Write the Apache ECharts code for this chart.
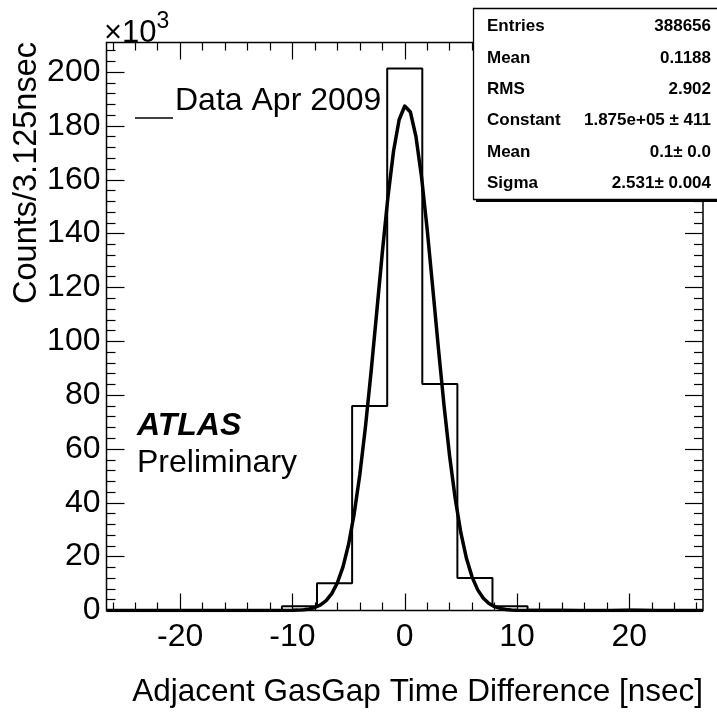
<!DOCTYPE html>
<html>
<head>
<meta charset="utf-8">
<script src="https://cdn.jsdelivr.net/npm/echarts@6/dist/echarts.min.js"></script>
<style>html,body{margin:0;padding:0;background:#fff}#c{width:717px;height:712px}</style>
</head>
<body>
<div id="c"></div>
<script>
// ---- data (counts in units of 10^3) ----
const binLowEdges = [-26.5625,-23.4375,-20.3125,-17.1875,-14.0625,-10.9375,-7.8125,-4.6875,-1.5625,1.5625,4.6875,7.8125,10.9375,14.0625,17.1875,20.3125,23.4375];
const binCounts   = [0.05,0.05,0.05,0.1,0.2,1.6,10.1,76.0,201.3,84.1,12.1,1.6,0.3,0.1,0.4,0.1,0.05];
const fitX = [-26.5625,-12,-10,-9.5,-9,-8.5,-8,-7.5,-7,-6.5,-6,-5.5,-5,-4.5,-4,-3.5,-3,-2.5,-2,-1.5,-1,-0.5,0,0.1,0.5,1,1.5,2,2.5,3,3.5,4,4.5,5,5.5,6,6.5,7,7.5,8,8.5,9,9.5,10,12,26.5625];
const fitY = [0,0,0.07,0.14,0.29,0.58,1.12,2.06,3.68,6.26,10.3,16.2,24.6,36.0,50.5,68.2,88.6,110.6,132.9,153.5,170.6,182.3,187.4,187.5,185.2,176.0,160.9,141.5,119.6,97.3,76.1,57.2,41.4,28.8,19.3,12.4,7.67,4.56,2.61,1.44,0.76,0.39,0.19,0.09,0,0];
const xMajorTicks = [-20,-10,0,10,20];
const xMinorTicks = [-26,-24,-22,-18,-16,-14,-12,-8,-6,-4,-2,2,4,6,8,12,14,16,18,22,24,26];
const yMajorTicks = [0,20,40,60,80,100,120,140,160,180,200];
const yMinorTicks = [4,8,12,16,24,28,32,36,44,48,52,56,64,68,72,76,84,88,92,96,104,108,112,116,124,128,132,136,144,148,152,156,164,168,172,176,184,188,192,196,204,208];
const statsLabels = ['Entries','Mean','RMS','Constant','Mean','Sigma'];
const statsValues = ['388656','0.1188','2.902','1.875e+05 \u00b1 411','0.1\u00b1 0.0','2.531\u00b1 0.004'];
const XMIN = -26.5625, XMAX = 26.5625, YMIN = 0, YMAX = 211;

const FONT = '"Liberation Sans", Arial, Helvetica, sans-serif';
const chart = echarts.init(document.getElementById('c'), null, {renderer:'canvas'});

function xAx(pos, ticks, len, labels) {
  return {
    type:'value', min:XMIN, max:XMAX, position:pos,
    axisLine:{show:false, onZero:false}, splitLine:{show:false},
    axisTick:{show:true, inside:true, length:len, customValues:ticks, lineStyle:{color:'#000', width:1.2}},
    axisLabel:{show:!!labels, customValues:labels||[], color:'#000', fontSize:32, fontFamily:FONT, margin:11}
  };
}
function yAx(pos, ticks, len, labels) {
  return {
    type:'value', min:YMIN, max:YMAX, position:pos,
    axisLine:{show:false, onZero:false}, splitLine:{show:false},
    axisTick:{show:true, inside:true, length:len, customValues:ticks, lineStyle:{color:'#000', width:1.2}},
    axisLabel:{show:!!labels, customValues:labels||[], color:'#000', fontSize:32, fontFamily:FONT, margin:6}
  };
}

const histData = binLowEdges.map((e,i)=>[e, binCounts[i]]);
histData.push([XMAX, binCounts[binCounts.length-1]]);
const fitData = fitX.map((x,i)=>[x, fitY[i]]);

const statsGraphics = [];
statsGraphics.push({type:'rect', z:100, shape:{x:476, y:11, width:260, height:191}, style:{fill:'#000'}});
statsGraphics.push({type:'rect', z:101, shape:{x:473.5, y:8.5, width:260, height:191}, style:{fill:'#fff', stroke:'#000', lineWidth:1.3}});
statsLabels.forEach((l,i)=>{
  const y = 26.7 + i*31.3;
  statsGraphics.push({type:'text', z:102, x:487, y:y, style:{text:l, fill:'#000', font:'bold 17px '+FONT, align:'left', verticalAlign:'middle'}});
  statsGraphics.push({type:'text', z:102, x:711, y:y, style:{text:statsValues[i], fill:'#000', font:'bold 17px '+FONT, align:'right', verticalAlign:'middle'}});
});

chart.setOption({
  animation:false,
  backgroundColor:'#fff',
  grid:{left:106.5, top:42.5, right:14, bottom:101.5, show:true, borderColor:'#000', borderWidth:1.5, backgroundColor:'transparent'},
  xAxis:[xAx('bottom', xMajorTicks, 17, xMajorTicks), xAx('bottom', xMinorTicks, 8), xAx('top', xMajorTicks, 17), xAx('top', xMinorTicks, 8)],
  yAxis:[yAx('left', yMajorTicks, 18, yMajorTicks), yAx('left', yMinorTicks, 9), yAx('right', yMajorTicks, 18), yAx('right', yMinorTicks, 9)],
  series:[
    {type:'line', step:'end', data:histData, xAxisIndex:0, yAxisIndex:0, symbol:'none', lineStyle:{color:'#000', width:2}, z:3},
    {type:'line', data:fitData, xAxisIndex:0, yAxisIndex:0, symbol:'none', smooth:false, lineStyle:{color:'#000', width:3.5, join:'round'}, z:4}
  ],
  graphic:[
    {type:'text', x:104, y:10, style:{text:'{a|\u00d710}{b|3}', rich:{a:{font:'31px '+FONT, fill:'#000', verticalAlign:'bottom'}, b:{font:'23px '+FONT, fill:'#000', verticalAlign:'top', padding:[0,0,16,0]}}, fill:'#000'}},
    {type:'text', x:27, y:42, rotation:Math.PI/2, style:{text:'Counts/3.125nsec', font:'32.5px '+FONT, fill:'#000', align:'right', verticalAlign:'middle'}},
    {type:'text', x:703, y:692, style:{text:'Adjacent GasGap Time Difference [nsec]', font:'31.5px '+FONT, fill:'#000', align:'right', verticalAlign:'middle'}},
    {type:'line', shape:{x1:135, y1:118, x2:173, y2:118}, style:{stroke:'#000', lineWidth:1.5}},
    {type:'text', x:175, y:101, style:{text:'Data Apr 2009', font:'32px '+FONT, fill:'#000', align:'left', verticalAlign:'middle'}},
    {type:'text', x:137, y:426, style:{text:'ATLAS', font:'italic bold 32px '+FONT, fill:'#000', align:'left', verticalAlign:'middle'}},
    {type:'text', x:137, y:463, style:{text:'Preliminary', font:'32px '+FONT, fill:'#000', align:'left', verticalAlign:'middle'}}
  ].concat(statsGraphics)
});
</script>
</body>
</html>
